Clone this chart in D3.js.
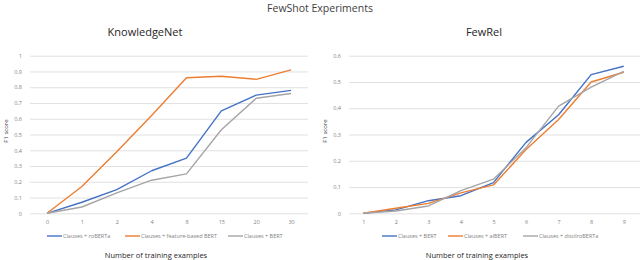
<!DOCTYPE html>
<html><head><meta charset="utf-8">
<script src="https://cdn.jsdelivr.net/npm/d3@7"></script>
<style>body{margin:0;background:#fff}svg{display:block}</style>
</head><body>
<svg id="c" width="640" height="260"></svg>
<script>
// KnowledgeNet data
const knCategories = ["0","1","2","4","8","15","20","30"];
const knRoberta = [0, 0.07, 0.15, 0.27, 0.35, 0.65, 0.75, 0.78];
const knFeatureBert = [0, 0.17, 0.39, 0.62, 0.86, 0.87, 0.85, 0.91];
const knBert = [0, 0.04, 0.13, 0.21, 0.25, 0.53, 0.73, 0.76];
const knYTicks = [0,0.1,0.2,0.3,0.4,0.5,0.6,0.7,0.8,0.9,1];
// FewRel data
const frCategories = ["1","2","3","4","5","6","7","8","9"];
const frBert = [0, 0.013, 0.048, 0.067, 0.117, 0.27, 0.375, 0.528, 0.56];
const frAlbert = [0, 0.019, 0.038, 0.078, 0.108, 0.243, 0.357, 0.50, 0.537];
const frDistil = [0, 0.009, 0.028, 0.086, 0.13, 0.25, 0.408, 0.48, 0.54];
const frYTicks = [0,0.1,0.2,0.3,0.4,0.5,0.6];

const BLUE="#4472C4", ORANGE="#ED7D31", GRAY="#A5A5A5";
const FONT="'Open Sans', 'Liberation Sans', sans-serif";
const svg = d3.select("#c").style("font-family", FONT);

svg.append("text").attr("x",320).attr("y",12).attr("text-anchor","middle")
  .attr("font-size",10.5).attr("fill","#404040").text("FewShot Experiments");

function panel(o){
  const g = svg.append("g");
  const x = d3.scalePoint().domain(o.cats).range(o.xr).padding(0.5);
  const y = d3.scaleLinear().domain([0,o.ymax]).range([213.3,55.7]);
  const fmt = d => d3.format("~g")(+d.toFixed(1)).replace(".", ",");
  const ya = g.append("g").attr("transform",`translate(${o.gx0},0)`)
    .call(d3.axisLeft(y).tickValues(o.yt).tickSize(-(o.gx1-o.gx0)).tickPadding(o.pad).tickFormat(fmt));
  ya.select(".domain").remove();
  ya.selectAll("line").attr("stroke","#D9D9D9").attr("stroke-width",0.8);
  ya.selectAll("text").attr("font-size",5.5).attr("fill","#7f7f7f").attr("font-family",FONT);
  const xa = g.append("g").attr("transform","translate(0,213.3)")
    .call(d3.axisBottom(x).tickSize(0).tickPadding(7));
  xa.select(".domain").remove();
  xa.selectAll("text").attr("font-size",5.5).attr("fill","#7f7f7f").attr("font-family",FONT);
  const line = d3.line().x((d,i)=>x(o.cats[i])).y(d=>y(d));
  o.series.forEach(s=>{
    g.append("path").datum(s.v).attr("d",line).attr("fill","none")
      .attr("stroke",s.c).attr("stroke-width",1.4).attr("stroke-linejoin","round");
  });
  g.append("text").attr("x",o.tx).attr("y",36).attr("text-anchor","middle")
    .attr("font-size",11).attr("fill","#262626").text(o.title);
  g.append("text").attr("transform",`translate(${o.ylx},131) rotate(-90)`)
    .attr("text-anchor","middle").attr("font-size",6).attr("fill","#404040").text("F1 score");
  g.append("text").attr("x",o.xtx).attr("y",258).attr("text-anchor","middle")
    .attr("font-size",7.5).attr("fill","#262626").text("Number of training examples");
  o.series.forEach((s,i)=>{
    const lx = o.lx[i];
    g.append("line").attr("x1",lx).attr("x2",lx+15).attr("y1",236).attr("y2",236)
      .attr("stroke",s.c).attr("stroke-width",1.4);
    g.append("text").attr("x",lx+16).attr("y",238).attr("font-size",5.5)
      .attr("fill","#7f7f7f").text(s.n);
  });
}

panel({cats:knCategories, xr:[29.6,308.5], gx0:30, gx1:308, ymax:1, yt:knYTicks, pad:8,
  title:"KnowledgeNet", tx:145, ylx:8, xtx:156, lx:[47,125,228],
  series:[{v:knRoberta,c:BLUE,n:"Clauses + roBERTa"},
          {v:knFeatureBert,c:ORANGE,n:"Clauses + feature-based BERT"},
          {v:knBert,c:GRAY,n:"Clauses + BERT"}]});

panel({cats:frCategories, xr:[347,640], gx0:349, gx1:640, ymax:0.6, yt:frYTicks, pad:8,
  title:"FewRel", tx:484, ylx:327, xtx:477, lx:[382,448,523],
  series:[{v:frBert,c:BLUE,n:"Clauses + BERT"},
          {v:frAlbert,c:ORANGE,n:"Clauses + alBERT"},
          {v:frDistil,c:GRAY,n:"Clauses + distilroBERTa"}]});
</script>
</body></html>
